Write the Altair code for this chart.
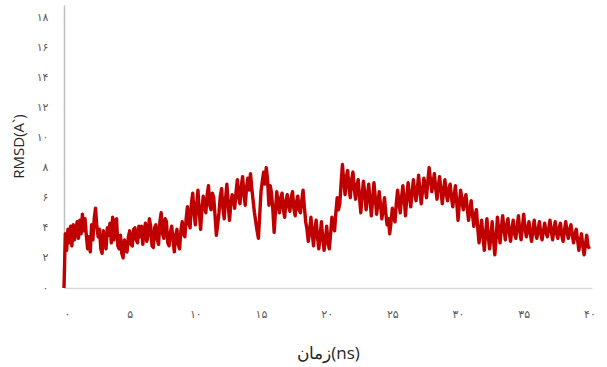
import altair as alt
import pandas as pd

# sampling grid (ns), one sample every 0.1 ns
step_ns = 0.1
rmsd = [
    0.0, 3.6, 2.5, 3.9, 3.0, 4.1, 2.8, 4.2, 3.2, 3.9,
    4.4, 3.3, 4.5, 3.6, 4.9, 3.8, 4.6, 3.5, 2.6, 3.4,
    2.4, 4.2, 3.2, 4.6, 5.3, 4.1, 3.4, 3.9, 2.6, 2.3,
    3.8, 3.1, 2.6, 4.0, 3.5, 4.3, 3.0, 4.7, 3.2, 4.5,
    4.6, 2.8, 2.6, 3.5, 2.3, 2.0, 3.2, 2.5, 2.4, 3.4,
    3.8, 2.9, 2.8, 3.9, 4.0, 3.2, 3.0, 4.1, 3.4, 4.1,
    2.9, 3.8, 4.3, 3.1, 3.5, 4.6, 4.1, 2.8, 2.7, 4.0,
    4.2, 3.2, 2.9, 4.4, 5.0, 3.6, 3.3, 4.6, 4.4, 3.0,
    2.8, 3.7, 4.1, 3.2, 2.4, 3.5, 3.9, 2.9, 2.6, 3.8,
    4.4, 3.6, 3.4, 4.6, 5.4, 4.3, 4.0, 5.6, 6.3, 5.0,
    4.2, 5.6, 6.5, 5.0, 3.9, 5.2, 6.1, 5.4, 5.0, 6.2,
    6.8, 5.5, 5.2, 6.3, 6.0, 4.8, 3.5, 4.2, 5.0, 6.1,
    6.6, 5.3, 4.6, 5.9, 6.9, 5.6, 4.5, 5.5, 6.2, 6.0,
    5.3, 6.4, 7.2, 6.0, 5.6, 6.8, 7.4, 6.2, 5.5, 6.7,
    7.3, 6.5, 7.6, 6.6, 5.8, 5.0, 4.4, 3.8, 3.3, 4.8,
    6.4, 7.1, 7.7, 6.9, 8.0, 7.2, 5.5, 6.8, 6.3, 5.2,
    3.7, 5.1, 6.4, 5.6, 5.0, 6.0, 6.3, 5.2, 4.7, 5.8,
    6.2, 5.4, 5.1, 6.0, 6.4, 5.3, 4.8, 5.7, 6.1, 5.2,
    5.0, 5.8, 6.5, 5.4, 4.4, 3.9, 3.1, 3.8, 4.7, 3.6,
    2.8, 3.9, 4.5, 3.4, 2.6, 3.5, 4.4, 3.3, 2.5, 3.2,
    4.1, 3.0, 2.6, 3.6, 4.7, 4.0, 3.8, 5.0, 6.0, 5.2,
    5.6, 7.0, 8.2, 7.1, 6.2, 7.4, 7.8, 6.6, 6.0, 7.2,
    7.7, 6.6, 5.9, 6.8, 7.2, 6.0, 5.0, 6.2, 7.1, 6.3,
    5.2, 6.1, 6.9, 5.8, 4.8, 5.9, 7.0, 6.0, 4.9, 5.6,
    6.4, 5.5, 4.6, 5.2, 6.0, 5.0, 4.2, 4.6, 3.6, 4.4,
    5.3, 4.8, 4.4, 5.6, 6.5, 5.7, 5.0, 6.0, 6.8, 5.9,
    4.8, 6.0, 7.0, 6.1, 5.4, 6.3, 7.2, 6.4, 5.8, 6.6,
    7.5, 6.4, 5.6, 6.5, 7.3, 6.7, 6.0, 7.1, 8.0, 7.2,
    6.4, 7.0, 7.6, 6.6, 5.9, 6.8, 7.4, 6.5, 5.6, 6.4,
    7.2, 6.3, 5.8, 6.6, 6.9, 6.0, 5.4, 6.1, 6.8, 5.7,
    4.5, 5.6, 6.5, 5.8, 5.2, 5.9, 6.2, 5.3, 4.5, 5.1,
    5.8, 4.9, 4.1, 4.8, 5.2, 4.0, 3.0, 3.8, 4.5, 3.4,
    2.5, 3.6, 4.6, 3.5, 2.6, 3.4, 4.4, 3.2, 2.2, 3.3,
    4.7, 3.8, 3.0, 4.0, 4.8, 3.9, 3.2, 4.2, 4.6, 3.7,
    3.1, 3.9, 4.5, 3.6, 3.3, 4.1, 4.8, 3.8, 3.2, 4.0,
    4.9, 4.0, 3.4, 3.9, 4.4, 3.6, 3.1, 3.8, 4.5, 3.7,
    3.3, 3.9, 4.4, 3.6, 3.2, 3.8, 4.3, 3.7, 3.4, 3.9,
    4.5, 3.8, 3.2, 3.9, 4.4, 3.6, 3.3, 4.0, 4.3, 3.5,
    3.1, 3.8, 4.4, 3.7, 3.3, 3.9, 4.2, 3.5, 3.0, 3.6,
    3.9, 3.2, 2.5, 3.1, 3.6, 2.8, 2.2, 2.9, 3.5, 2.8,
    2.6,
]
time_ns = [round(i * step_ns, 1) for i in range(len(rmsd))]

x_tick_values = [0, 5, 10, 15, 20, 25, 30, 35, 40]
x_tick_labels = ["۰", "۵", "۱۰", "۱۵", "۲۰", "۲۵", "۳۰", "۳۵", "۴۰"]
y_tick_values = [0, 2, 4, 6, 8, 10, 12, 14, 16, 18]
y_tick_labels = ["۰", "۲", "۴", "۶", "۸", "۱۰", "۱۲", "۱۴", "۱۶", "۱۸"]

x_title = "زمان(ns)"
y_title = "RMSD(A`)"


def label_expr(values, labels):
    expr = "''"
    for v, l in reversed(list(zip(values, labels))):
        expr = f"datum.value == {v} ? '{l}' : ({expr})"
    return expr


df = pd.DataFrame({"t": time_ns, "rmsd": rmsd})

chart = (
    alt.Chart(df)
    .mark_line(color="#C00000", strokeWidth=3.4, interpolate="linear", strokeJoin="round")
    .encode(
        x=alt.X(
            "t:Q",
            scale=alt.Scale(domain=[0, 40.2], nice=False, zero=False),
            axis=alt.Axis(
                title=x_title,
                values=x_tick_values,
                labelExpr=label_expr(x_tick_values, x_tick_labels),
                grid=False,
                ticks=False,
                domainColor="#D9D9D9",
                domainWidth=1.5,
                labelPadding=20,
                labelFontSize=11,
                labelColor="#595959",
                labelFont="DejaVu Sans",
                titleFont="Open Sans",
                titleFontSize=17,
                titleFontWeight="normal",
                titleColor="#262626",
                titleY=65,
                titleBaseline="middle",
            ),
        ),
        y=alt.Y(
            "rmsd:Q",
            scale=alt.Scale(domain=[0, 18.8], nice=False),
            axis=alt.Axis(
                title=y_title,
                values=y_tick_values,
                labelExpr=label_expr(y_tick_values, y_tick_labels),
                grid=False,
                ticks=False,
                domainColor="#BFBFBF",
                domainWidth=1.5,
                labelPadding=16,
                labelFontSize=11,
                labelColor="#595959",
                labelFont="DejaVu Sans",
                titleFont="Open Sans",
                titleFontSize=15,
                titleFontWeight="normal",
                titleColor="#262626",
                titleX=-46,
                titleY=141,
                titleAngle=270,
                titleBaseline="middle",
            ),
        ),
    )
    .properties(
        width=528,
        height=283,
        autosize=alt.AutoSizeParams(type="none"),
        padding={"left": 64, "top": 5, "right": 15, "bottom": 79},
    )
    .configure(background="white")
    .configure_view(strokeWidth=0, stroke="transparent")
)

chart.save("out.html", embed_options={"renderer": "svg", "actions": False})
